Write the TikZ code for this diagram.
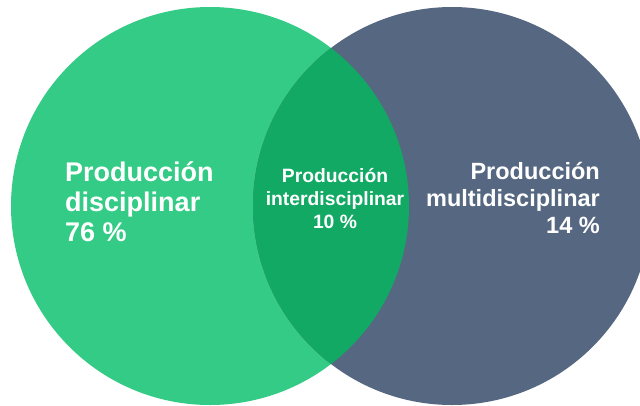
\documentclass[tikz,border=0pt]{standalone}
\usepackage{fontspec}
\setmainfont{Liberation Sans}
\definecolor{verde}{RGB}{51,203,133}
\definecolor{verdeosc}{RGB}{17,169,100}
\definecolor{pizarra}{RGB}{86,103,129}
\begin{document}
\begin{tikzpicture}[x=1pt,y=-1pt,
    texto/.style={text=white,inner sep=0pt,font=\bfseries}]
      \clip (0,0) rectangle (640,405) ;
      \fill [white] (0,0) rectangle (640,405) ;
      \fill [verde] (210,206) circle (199) ;
      \fill [pizarra] (452,206) circle (199) ;
      \begin{scope}
        \clip (210,206) circle (199) ;
        \fill [verdeosc] (452,206) circle (199) ;
      \end{scope}
      \node (disc) [texto,anchor=north west,align=left,font=\bfseries\fontsize{27}{30}\selectfont] at (65,161)
        { Producción \\ disciplinar \\ 76 \% } ;
      \node (inter) [texto,anchor=north,align=center,font=\bfseries\fontsize{19.3}{23}\selectfont] at (335,168)
        { Producción \\ interdisciplinar \\ 10 \% } ;
      \node (multi) [texto,anchor=north east,align=right,font=\bfseries\fontsize{23.5}{27}\selectfont] at (600,162)
        { Producción \\ multidisciplinar \\ 14 \% } ;
    \end{tikzpicture}
\end{document}
